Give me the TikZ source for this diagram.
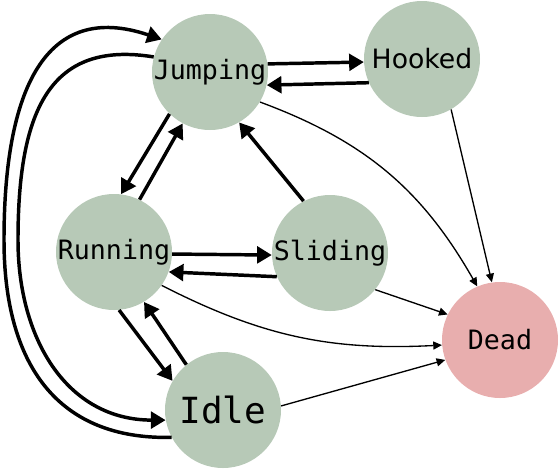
\documentclass[tikz,border=0pt]{standalone}
\usepackage{fontspec}
\setmainfont{DejaVu Sans}
\setmonofont{DejaVu Sans Mono}
\usetikzlibrary{arrows.meta}
\definecolor{sgreen}{HTML}{B7C9B7}
\definecolor{sred}{HTML}{E8AEAE}
\tikzset{
  % state circles, green unless told otherwise
  st/.style   = {circle, fill=#1, minimum size=87pt, inner sep=0pt,
                 font=\fontsize{20}{24}\selectfont\ttfamily},
  st/.default = sgreen,
  thk/.style  = {-{Triangle[length=11pt,width=12.5pt]}, line width=2.6pt},
  thn/.style  = {-{Triangle[length=6.5pt,width=6pt]}, line width=1pt},
}
\begin{document}
\begin{tikzpicture}[x=0.75pt,y=-0.75pt]
\useasboundingbox (0,0) rectangle (558,469);
% states
\node[st] (jump) at (210,72) {Jumping};
\node[st, font=\fontsize{20}{24}\selectfont\rmfamily] (hook) at (422,59) {Hooked};
\node[st] (run) at (114,252) {Running};
\node[st] (slide) at (330,253) {Sliding};
\node[st, font=\fontsize{27}{32}\selectfont\ttfamily] (idle) at (223,410) {Idle};
\node[st=sred] (dead) at (500,340) {Dead};
% transitions
\draw[thk] (jump.8) -- (hook.183);
\draw[thk] (hook.204) -- (jump.-13);
\draw[thk] (jump.226) -- (run.83);
\draw[thk] (run.64) -- (jump.242);
\draw[thk] (slide.117) -- (jump.300);
\draw[thk] (run.-2) -- (slide.182);
\draw[thk] (slide.204) -- (run.-20);
\draw[thk] (run.-85) -- (idle.150);
\draw[thk] (idle.129) -- (run.-59);
% long way round
\draw[thk] (idle.208) .. controls (58,440) and (4,365) .. (4,240)
                      .. controls (4,90) and (45,0) .. (jump.146);
\draw[thk] (jump.165) .. controls (50,40) and (18,110) .. (18,240)
                      .. controls (18,339) and (67,420) .. (idle.190);
% into dead
\draw[thn] (jump.-31) to[bend left=20] (dead.113);
\draw[thn] (hook.-60) -- (dead.98);
\draw[thn] (slide.-39) -- (dead.154);
\draw[thn] (run.-35) to[bend right=15] (dead.185);
\draw[thn] (idle.4) -- (dead.200);
\end{tikzpicture}
\end{document}
